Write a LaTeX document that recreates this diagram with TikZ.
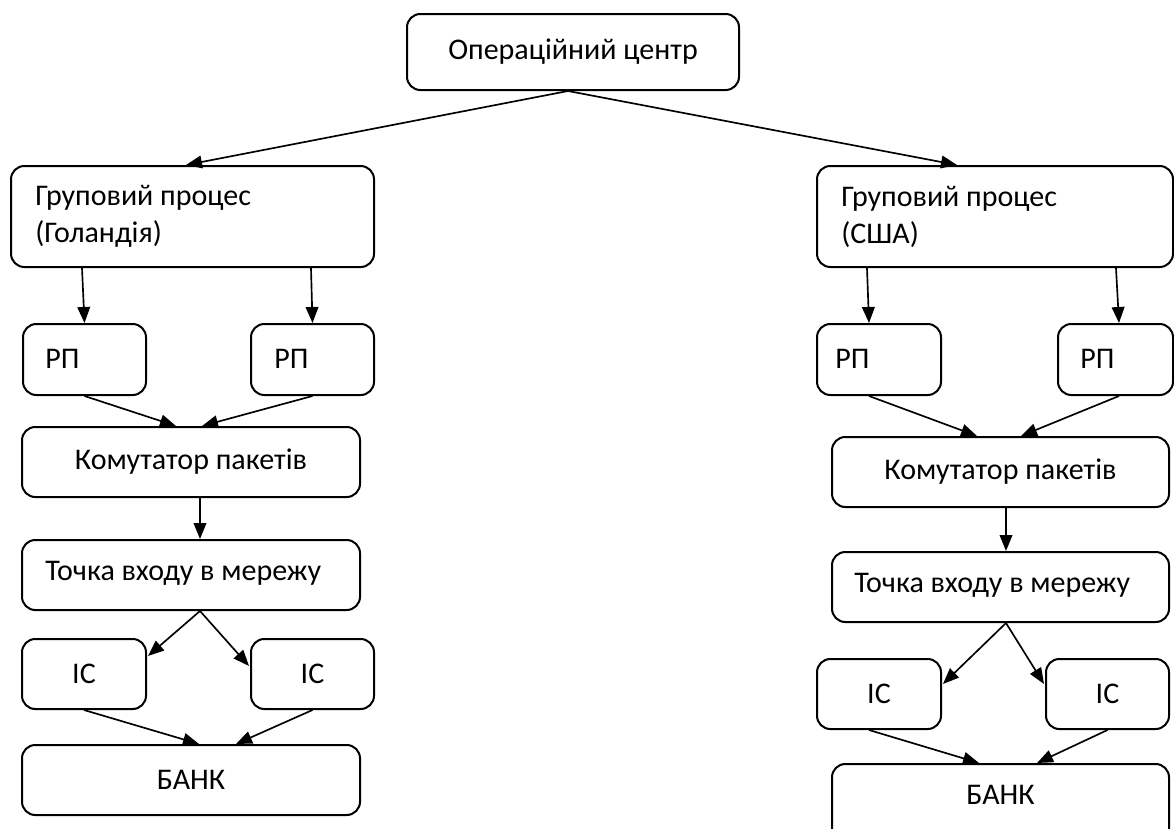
\documentclass[tikz,border=0pt]{standalone}
\usepackage{fontspec}
\setmainfont{Carlito}
\usepackage{tikz}
\usetikzlibrary{arrows.meta, calc}

\begin{document}
\begin{tikzpicture}[
    x=0.75pt, y=-0.75pt,
    blok/.style={draw, line width=1.5pt, rounded corners=10pt, inner sep=0pt, font=\fontsize{22.5}{27.75}\selectfont},
    tekst/.style={inner sep=0pt, align=left, anchor=west, font=\fontsize{22.5}{27.75}\selectfont},
    strilka/.style={line width=1.25pt, -{Triangle[length=12pt, width=9.5pt]}}
]
\useasboundingbox (0,0) rectangle (1174,828);

% verkh
\node[blok, minimum width=249pt, minimum height=57pt] (opc) at (573,52) {Операційний центр};

% liva gilka
\node[blok, minimum width=272.25pt, minimum height=75.75pt] (grpL) at (192.5,216.5) {};
\node[tekst] (tgrpL) at ($(grpL.west)+(25,0)$) {Груповий процес\\(Голандія)};
\node[blok, minimum width=92.25pt, minimum height=53.25pt] (rpL1) at (84.5,359.5) {};
\node[tekst] (trpL1) at ($(rpL1.west)+(23,-1)$) {РП};
\node[blok, minimum width=92.25pt, minimum height=53.25pt] (rpL2) at (312.5,359.5) {};
\node[tekst] (trpL2) at ($(rpL2.west)+(24,-1)$) {РП};
\node[blok, minimum width=253.5pt, minimum height=52.5pt] (komL) at (191,462) {Комутатор пакетів};
\node[blok, minimum width=253.5pt, minimum height=52.5pt] (tochL) at (191,575) {};
\node[tekst] (ttochL) at ($(tochL.west)+(24,-2)$) {Точка входу в мережу};
\node[blok, minimum width=93pt, minimum height=52.5pt] (icL1) at (84,674) {ІС};
\node[blok, minimum width=92.25pt, minimum height=52.5pt] (icL2) at (312.5,674) {ІС};
\node[blok, minimum width=253.5pt, minimum height=52.5pt] (bankL) at (191,780) {БАНК};

% prava gilka
\node[blok, minimum width=267pt, minimum height=75.75pt] (grpR) at (995,216.5) {};
\node[tekst] (tgrpR) at ($(grpR.west)+(25,0)$) {Груповий процес\\(США)};
\node[blok, minimum width=93pt, minimum height=53.25pt] (rpR1) at (879,359.5) {};
\node[tekst] (trpR1) at ($(rpR1.west)+(19,-1)$) {РП};
\node[blok, minimum width=86.25pt, minimum height=53.25pt] (rpR2) at (1115.5,359.5) {};
\node[tekst] (trpR2) at ($(rpR2.west)+(23,-1)$) {РП};
\node[blok, minimum width=252.75pt, minimum height=52.5pt] (komR) at (1000.5,472) {Комутатор пакетів};
\node[blok, minimum width=252.75pt, minimum height=52.5pt] (tochR) at (1000.5,587) {};
\node[tekst] (ttochR) at ($(tochR.west)+(23,-2)$) {Точка входу в мережу};
\node[blok, minimum width=93pt, minimum height=52.5pt] (icR1) at (879,694) {ІС};
\node[blok, minimum width=92.25pt, minimum height=52.5pt] (icR2) at (1107.5,694) {ІС};
\node[blok, minimum width=252.75pt, minimum height=66pt] (bankR) at (1000.5,808) {};
\node[inner sep=0pt, font=\fontsize{22.5}{27.75}\selectfont] (tbankR) at (1000.5,795) {БАНК};

% strilky
\draw[strilka] ($(opc.south)+(-5,0)$) -- ($(grpL.north west)+(176,0)$);
\draw[strilka] ($(opc.south)+(-5,0)$) -- ($(grpR.north west)+(141,0)$);

\draw[strilka] ($(grpL.south west)+(72,0)$) -- (rpL1.north);
\draw[strilka] ($(grpL.south west)+(301,0)$) -- (rpL2.north);
\draw[strilka] (rpL1.south) -- ($(komL.north west)+(155,0)$);
\draw[strilka] (rpL2.south) -- ($(komL.north west)+(181,0)$);
\draw[strilka] ($(komL.south west)+(179,0)$) -- ($(tochL.north west)+(179,0)$);
\draw[strilka] ($(tochL.south west)+(179,0)$) -- ($(icL1.north east)+(1,18)$);
\draw[strilka] ($(tochL.south west)+(179,0)$) -- ($(icL2.north west)+(-1,28)$);
\draw[strilka] (icL1.south) -- ($(bankL.north west)+(178,0)$);
\draw[strilka] (icL2.south) -- ($(bankL.north west)+(215,0)$);

\draw[strilka] ($(grpR.south west)+(51,0)$) -- ($(rpR1.north west)+(53,0)$);
\draw[strilka] ($(grpR.south west)+(300,0)$) -- ($(rpR2.north west)+(62,0)$);
\draw[strilka] ($(rpR1.south west)+(53,0)$) -- ($(komR.north west)+(146,0)$);
\draw[strilka] ($(rpR2.south west)+(62,0)$) -- ($(komR.north west)+(190,0)$);
\draw[strilka] ($(komR.south west)+(175,0)$) -- ($(tochR.north west)+(175,0)$);
\draw[strilka] ($(tochR.south west)+(175,0)$) -- ($(icR1.north east)+(1,26)$);
\draw[strilka] ($(tochR.south west)+(175,0)$) -- ($(icR2.north west)+(-1,26)$);
\draw[strilka] ($(icR1.south west)+(53,0)$) -- ($(bankR.north west)+(148,0)$);
\draw[strilka] (icR2.south) -- ($(bankR.north west)+(206,0)$);

\end{tikzpicture}
\end{document}
